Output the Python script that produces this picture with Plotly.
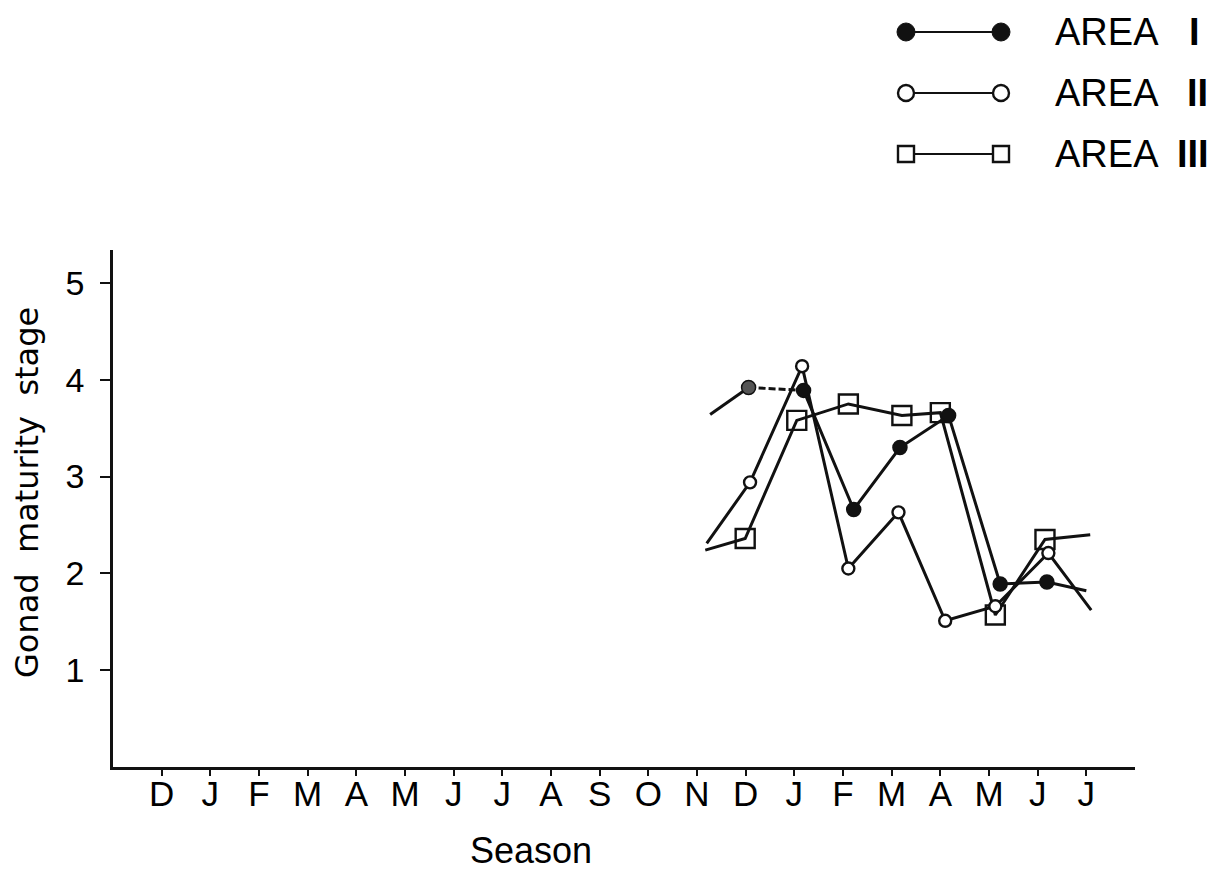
import plotly.graph_objects as go

# ---------------- data ----------------
month_labels = ["D", "J", "F", "M", "A", "M", "J", "J", "A", "S",
                "O", "N", "D", "J", "F", "M", "A", "M", "J", "J"]
month_pos = list(range(len(month_labels)))

y_ticks = [1, 2, 3, 4, 5]

# Area I (filled circles); first value is the incoming line end (no marker)
area1_x = [11.27, 12.06, 13.19, 14.22, 15.17, 16.17, 17.23, 18.19, 19.0]
area1_y = [3.64, 3.92, 3.89, 2.66, 3.30, 3.63, 1.89, 1.91, 1.82]

# Area II (open circles)
area2_x = [11.2, 12.09, 13.16, 14.11, 15.14, 16.1, 17.13, 18.22, 19.1]
area2_y = [2.31, 2.94, 4.14, 2.05, 2.63, 1.51, 1.66, 2.21, 1.62]

# Area III (open squares)
area3_x = [11.17, 11.99, 13.05, 14.11, 15.21, 16.0, 17.13, 18.15, 19.08]
area3_y = [2.24, 2.36, 3.58, 3.75, 3.63, 3.66, 1.57, 2.35, 2.40]

legend_names = ["AREA", "AREA", "AREA"]
legend_numerals = ["I", "II", "III"]

# ---------------- layout helpers ----------------
W, H = 1223, 875
L, R, T, B = 113, 88, 250, 108
PW, PH = W - L - R, H - T - B


def px(x):
    return (x - L) / PW


def py(y):
    return (H - B - y) / PH


FONT = "Liberation Sans, Arial, Helvetica, sans-serif"
WIDE = "DejaVu Sans, Verdana, sans-serif"
BLACK = "#111111"
LW = 3

fig = go.Figure()

# Area I lines: incoming solid, D->J dashed, rest solid
fig.add_trace(go.Scatter(x=area1_x[0:2], y=area1_y[0:2], mode="lines",
                         line=dict(color=BLACK, width=LW), hoverinfo="skip"))
fig.add_trace(go.Scatter(x=area1_x[1:3], y=area1_y[1:3], mode="lines",
                         line=dict(color=BLACK, width=LW, dash="7px,3px"), hoverinfo="skip"))
fig.add_trace(go.Scatter(x=area1_x[2:], y=area1_y[2:], mode="lines",
                         line=dict(color=BLACK, width=LW), hoverinfo="skip"))

# Area II line
fig.add_trace(go.Scatter(x=area2_x, y=area2_y, mode="lines",
                         line=dict(color=BLACK, width=LW), hoverinfo="skip"))
# Area III line
fig.add_trace(go.Scatter(x=area3_x, y=area3_y, mode="lines",
                         line=dict(color=BLACK, width=LW), hoverinfo="skip"))

# markers (skip the first incoming point)
fig.add_trace(go.Scatter(x=area3_x[1:-1], y=area3_y[1:-1], mode="markers",
                         marker=dict(symbol="square-open", size=19, color=BLACK,
                                     line=dict(width=2.4, color=BLACK)),
                         name="AREA III"))
fig.add_trace(go.Scatter(x=area2_x[1:-1], y=area2_y[1:-1], mode="markers",
                         marker=dict(symbol="circle", size=12, color="white",
                                     line=dict(width=2.4, color=BLACK)),
                         name="AREA II"))
a1_colors = ["#555555"] + [BLACK] * (len(area1_x) - 3)
fig.add_trace(go.Scatter(x=area1_x[1:-1], y=area1_y[1:-1], mode="markers",
                         marker=dict(symbol="circle", size=14, color=a1_colors,
                                     line=dict(width=1.5, color=BLACK)),
                         name="AREA I"))

# ---------------- legend (drawn manually) ----------------
shapes = []
annotations = []
rows_y = [32, 93, 154]
lx0, lx1 = 906, 1001
for i, yy in enumerate(rows_y):
    shapes.append(dict(type="line", xref="paper", yref="paper",
                       x0=px(lx0), x1=px(lx1), y0=py(yy), y1=py(yy),
                       line=dict(color=BLACK, width=2)))
    for xx in (lx0, lx1):
        if i == 0:
            shapes.append(dict(type="circle", xref="paper", yref="paper",
                               xsizemode="pixel", ysizemode="pixel",
                               xanchor=px(xx), yanchor=py(yy),
                               x0=-9, x1=9, y0=-9, y1=9,
                               fillcolor=BLACK, line=dict(color=BLACK, width=1)))
        elif i == 1:
            shapes.append(dict(type="circle", xref="paper", yref="paper",
                               xsizemode="pixel", ysizemode="pixel",
                               xanchor=px(xx), yanchor=py(yy),
                               x0=-8, x1=8, y0=-8, y1=8,
                               fillcolor="white", line=dict(color=BLACK, width=2.4)))
        else:
            shapes.append(dict(type="rect", xref="paper", yref="paper",
                               xsizemode="pixel", ysizemode="pixel",
                               xanchor=px(xx), yanchor=py(yy),
                               x0=-8, x1=8, y0=-8, y1=8,
                               fillcolor="white", line=dict(color=BLACK, width=2.4)))
    annotations.append(dict(text=legend_names[i], xref="paper", yref="paper",
                            x=px(1053), y=py(yy), xanchor="left", yanchor="middle",
                            showarrow=False, font=dict(family=FONT, size=38, color="black")))

numeral_x = [1187, 1185, 1175]
for i, yy in enumerate(rows_y):
    annotations.append(dict(text="<b>" + legend_numerals[i] + "</b>", xref="paper", yref="paper",
                            x=px(numeral_x[i]), y=py(yy), xanchor="left", yanchor="middle",
                            showarrow=False, font=dict(family=FONT, size=38, color="black")))

# axis titles as annotations
annotations.append(dict(text="Season", xref="paper", yref="paper",
                        x=px(531), y=py(850), xanchor="center", yanchor="middle",
                        showarrow=False, font=dict(family=FONT, size=36, color="black")))
annotations.append(dict(text="Gonad  maturity  stage", xref="paper", yref="paper",
                        x=px(27), y=py(493), xanchor="center", yanchor="middle",
                        textangle=-90, showarrow=False,
                        font=dict(family=WIDE, size=32, color="black")))

fig.update_layout(
    width=W, height=H,
    margin=dict(l=L, r=R, t=T, b=B, pad=0),
    paper_bgcolor="white", plot_bgcolor="white",
    showlegend=False,
    shapes=shapes, annotations=annotations,
    font=dict(family=FONT, color="black"),
)

fig.update_xaxes(range=[-1, 20], tickmode="array", tickvals=month_pos, ticktext=month_labels,
                 showgrid=False, zeroline=False, showline=True, linecolor=BLACK, linewidth=2.5,
                 ticks="outside", ticklen=6, tickwidth=1.8, tickcolor=BLACK,
                 tickfont=dict(family=FONT, size=35, color="black"), ticklabelstandoff=-12)
fig.update_yaxes(range=[0, 5.34], tickmode="array", tickvals=y_ticks,
                 ticktext=[str(v) for v in y_ticks],
                 showgrid=False, zeroline=False, showline=True, linecolor=BLACK, linewidth=2.5,
                 ticks="outside", ticklen=10, tickwidth=1.8, tickcolor=BLACK,
                 tickfont=dict(family=FONT, size=34, color="black"), ticklabelstandoff=9)

fig.write_html("out.html")
